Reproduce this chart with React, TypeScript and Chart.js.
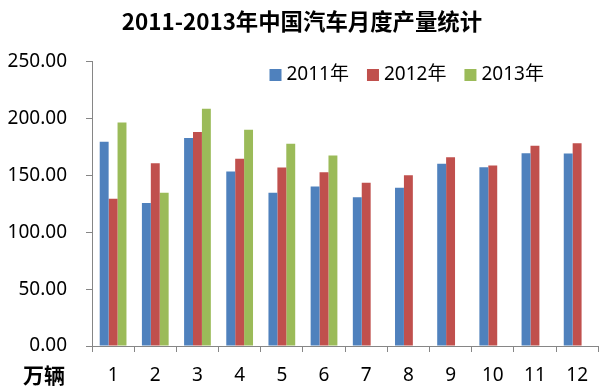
import React, { useEffect, useRef } from "react";
import { Chart, registerables } from "chart.js";

Chart.register(...registerables);

const months = ["1", "2", "3", "4", "5", "6", "7", "8", "9", "10", "11", "12"];
const seriesNames = ["2011年", "2012年", "2013年"];
const values2011 = [179.8, 125.9, 183.0, 153.6, 134.8, 140.3, 130.9, 139.4, 160.4, 157.4, 169.7, 169.4];
const values2012 = [129.7, 160.9, 188.3, 164.8, 157.1, 153.0, 143.6, 150.3, 166.2, 158.9, 176.3, 178.4];
const values2013 = [196.8, 134.8, 208.9, 190.4, 178.0, 167.7, null, null, null, null, null, null];
const colors = ["#4F81BD", "#C0504D", "#9BBB59"];
const titleText = "2011-2013年中国汽车月度产量统计";
const unitLabel = "万辆";

const FONT = '"Noto Sans", "Noto Sans CJK SC", sans-serif';
const CJK_FONT = '"Noto Sans CJK SC", "Noto Sans", sans-serif';

const overlayPlugin = {
  id: "overlay",
  afterDraw(chart: any) {
    const ctx = chart.ctx;
    ctx.save();
    // legend
    ctx.font = `19px ${FONT}`;
    ctx.textBaseline = "middle";
    ctx.textAlign = "left";
    let x = 269.5;
    const y = 75;
    chart.data.datasets.forEach((ds: any) => {
      ctx.fillStyle = ds.backgroundColor;
      ctx.fillRect(x, y - 6, 12, 12);
      ctx.fillStyle = "#000";
      const tx = x + 17;
      ctx.fillText(ds.label, tx, y);
      x = tx + ctx.measureText(ds.label).width + 18;
    });
    // unit label
    ctx.font = `bold 21px ${CJK_FONT}`;
    ctx.textAlign = "center";
    ctx.fillStyle = "#000";
    ctx.fillText(unitLabel, 44, 375);
    ctx.restore();
  },
};

export default function App() {
  const ref = useRef<HTMLCanvasElement | null>(null);
  useEffect(() => {
    if (!ref.current) return;
    const chart = new Chart(ref.current, {
      type: "bar",
      data: {
        labels: months,
        datasets: [values2011, values2012, values2013].map((d, i) => ({
          label: seriesNames[i],
          data: d as any,
          backgroundColor: colors[i],
          borderWidth: 0,
          categoryPercentage: 0.634,
          barPercentage: 1,
        })),
      },
      options: {
        responsive: false,
        animation: false,
        layout: { padding: { left: 0, right: -4, top: 0, bottom: 0 } },
        plugins: {
          legend: { display: false },
          tooltip: { enabled: false },
          title: {
            display: true,
            text: titleText,
            color: "#000",
            font: { family: CJK_FONT, size: 22.4, weight: "bold" },
            padding: { top: 8.5, bottom: 26.6 },
          },
        },
        scales: {
          x: {
            grid: {
              offset: true,
              drawOnChartArea: false,
              drawTicks: true,
              tickLength: 6,
              color: "#868686",
            },
            border: { display: true, color: "#868686", width: 1 },
            ticks: { color: "#000", font: { family: FONT, size: 19 }, padding: 12, maxRotation: 0 },
            afterFit(scale: any) {
              scale.height = 44;
            },
          },
          y: {
            min: 0,
            max: 250,
            grid: {
              drawOnChartArea: false,
              drawTicks: true,
              tickLength: 6,
              color: "#868686",
            },
            border: { display: true, color: "#868686", width: 1 },
            ticks: {
              stepSize: 50,
              color: "#000",
              font: { family: FONT, size: 19 },
              padding: 19,
              callback: (v: any) => Number(v).toFixed(2),
            },
            afterFit(scale: any) {
              scale.width = 92;
            },
          },
        },
      },
      plugins: [overlayPlugin],
    });
    return () => chart.destroy();
  }, []);
  return (
    <canvas
      ref={ref}
      width={600}
      height={390}
      style={{ position: "absolute", left: 0, top: 0, display: "block", width: 600, height: 390 }}
    />
  );
}
